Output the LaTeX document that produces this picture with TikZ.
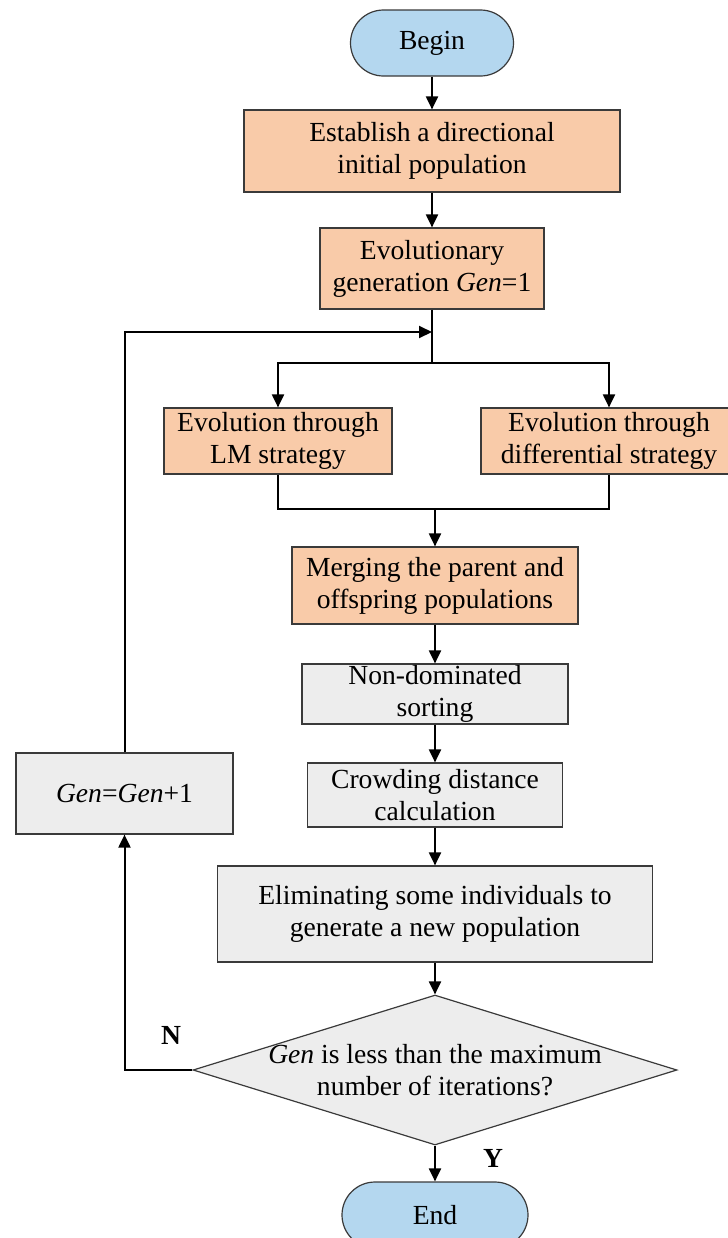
\documentclass[tikz,border=0pt]{standalone}
\usepackage{fontspec}
\setmainfont{Liberation Serif}
\usetikzlibrary{shapes.misc,shapes.geometric,arrows.meta}

\definecolor{peach}{HTML}{F9CBA9}
\definecolor{skyfill}{HTML}{B4D7EF}
\definecolor{greyfill}{HTML}{EDEDED}
\definecolor{edgegrey}{HTML}{3A3A3A}

\tikzset{
    box/.style={draw=edgegrey, line width=0.6pt, inner sep=0pt, align=center,
        font=\fontsize{13.8}{16}\selectfont},
    orangebox/.style={box, fill=peach},
    greybox/.style={box, fill=greyfill},
    terminal/.style={box, rounded rectangle, fill=skyfill},
    decision/.style={box, diamond, aspect=3.2, inner sep=-3pt, fill=greyfill},
    arr/.style={line width=1pt, -{Triangle[length=6.5pt,width=6pt]}},
    link/.style={line width=1pt},
    yesno/.style={font=\fontsize{13.8}{16}\selectfont\bfseries}
}

\begin{document}
\begin{tikzpicture}[x=0.5pt, y=-0.5pt]
    \useasboundingbox (0,0) rectangle (728,1238);

    % Start and initial steps
    \node[terminal, minimum width=81.5pt, minimum height=33pt] (begin) at (432,43) {Begin};
    \node[orangebox, minimum width=188pt, minimum height=41pt] (est) at (432,151)
        {Establish a directional\\initial population};
    \node[orangebox, minimum width=112pt, minimum height=40.5pt] (evo) at (432,268.5)
        {Evolutionary\\generation \textit{Gen}=1};

    % Two evolution strategies
    \node[orangebox, minimum width=114pt, minimum height=33pt] (lm) at (278,441)
        {Evolution through\\LM strategy};
    \node[orangebox, minimum width=128pt, minimum height=33pt] (de) at (609,441)
        {Evolution through\\differential strategy};

    % Merging and selection
    \node[orangebox, minimum width=143pt, minimum height=38.5pt] (merge) at (435,585.5)
        {Merging the parent and\\offspring populations};
    \node[greybox, minimum width=133pt, minimum height=30pt] (nds) at (435,694)
        {Non-dominated\\sorting};
    \node[greybox, minimum width=127.5pt, minimum height=32pt] (crowd) at (435,795)
        {Crowding distance\\calculation};
    \node[greybox, minimum width=217.5pt, minimum height=48pt] (elim) at (435,914)
        {Eliminating some individuals to\\generate a new population};
    \node[decision, minimum width=242pt, minimum height=75pt] (dec) at (435,1070)
        {\textit{Gen} is less than the maximum\\number of iterations?};
    \node[terminal, minimum width=93pt, minimum height=33pt] (end) at (435,1215) {End};

    % Counter update
    \node[greybox, minimum width=108.5pt, minimum height=40.5pt] (gen) at (124.5,793.5)
        {\textit{Gen}=\textit{Gen}+1};

    % Junction points
    \coordinate (loopin) at (432,332);
    \coordinate (split) at (432,363);
    \coordinate (join) at (435,509);

    % Main flow
    \foreach \a/\b in {begin/est, est/evo, merge/nds, nds/crowd, crowd/elim, elim/dec, dec/end} {
        \draw[arr] (\a.south) -- (\b.north);
    }
    \draw[link] (evo.south) -- (split);
    \draw[arr] (split) -| (lm.north);
    \draw[arr] (split) -| (de.north);
    \draw[link] (lm.south) |- (join) -| (de.south);
    \draw[arr] (join) -- (merge.north);

    % Loop back
    \draw[arr] (dec.west) -| (gen.south);
    \draw[arr] (gen.north) |- (loopin);

    % Labels
    \node[yesno] (nlabel) at (171,1035) {N};
    \node[yesno] (ylabel) at (493,1158) {Y};
\end{tikzpicture}
\end{document}
